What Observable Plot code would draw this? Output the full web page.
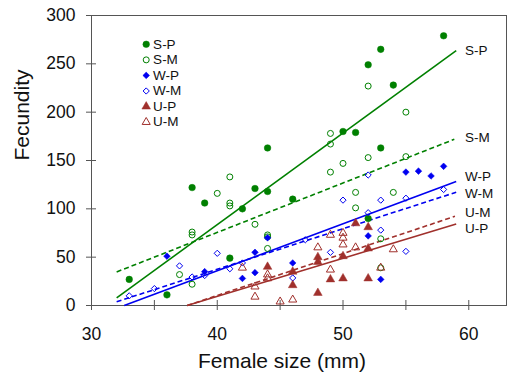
<!DOCTYPE html>
<html><head><meta charset="utf-8">
<script src="https://cdn.jsdelivr.net/npm/d3@7"></script>
<script src="https://cdn.jsdelivr.net/npm/@observablehq/plot@0.6"></script>
<style>body{margin:0;background:#fff} svg{display:block}</style>
</head><body><div id="chart"></div>
<script>
// ---- data ----
const seriesNames = ["S-P","S-M","W-P","W-M","U-P","U-M"];

const spX = [33,36,38,39,41,42,43,44,44,46,50,51,52,52,53,53,54,58];
const spY = [27,11,122,106,49,100,121,118,163,110,180,179,249,90,265,163,228,279];

const smX = [37,38,38,38,40,41,41,41,43,44,44,44,49,49,49,50,51,51,52,52,53,53,54,55,55];
const smY = [32,76,73,22,116,133,106,103,84,73,71,59,178,167,138,147,117,101,227,153,69,39,117,200,154];

const wpX = [36,39,42,43,43,44,46,52,53,55,56,57,58];
const wpY = [51,35,28,55,34,70,44,72,27,138,139,134,144];

const wmX = [33,35,37,38,39,40,41,42,46,47,49,50,52,52,53,53,55,55,58];
const wmY = [10,17.5,41,29.5,31,54,38,44,28.5,68,55,109,135,96,109,78,111,56,120];

const upX = [44,46,46,48,48,48,49,50,50,51,52,52,52];
const upY = [40,35,21,50,45,13,27,51,28,85,81,59,28];

const umX = [42,43,43,44,44,45,46,48,49,49,50,50,50,51,53,54];
const umY = [39,19.5,9,32,28,4,6,60,73,37,75,70,63,60,39,58];

// fitted regression lines (slope, intercept, x extent), same order as seriesNames
const fitSlope     = [9.47, 5.11, 4.854, 4.196, 3.94, 4.33];
const fitIntercept = [-295.1, -128.8, -158.2, -130.4, -148.1, -162.8];
const fitXStart    = [32.0, 32.0, 32.6, 32.0, 37.6, 37.6];
const fitXEnd      = [59.0, 58.85, 59.0, 59.0, 59.0, 58.9];
const lineLabelY   = [264, 174, 133, 116, 79, 96];

const xTicks = [30,35,40,45,50,55,60];
const xTickLabels = [30,40,50,60];
const yTicks = [0,50,100,150,200,250,300];
const xTitle = "Female size (mm)";
const yTitle = "Fecundity";

// ---- styles ----
const GREEN = "#008000", BLUE = "#0000f0", RED = "#a0302c";
const styles = {
  "S-P": {color: GREEN, symbol: "circle",   filled: true,  r: 3.3, dash: null},
  "S-M": {color: GREEN, symbol: "circle",   filled: false, r: 3.0, dash: "5,3"},
  "W-P": {color: BLUE,  symbol: "diamond2", filled: true,  r: 3.0, dash: null},
  "W-M": {color: BLUE,  symbol: "diamond2", filled: false, r: 2.8, dash: "5,3"},
  "U-P": {color: RED,   symbol: "triangle", filled: true,  r: 3.2, dash: null},
  "U-M": {color: RED,   symbol: "triangle", filled: false, r: 3.0, dash: "5,3"}
};

const W = 508, H = 379, mL = 91, mR = 2, mT = 15, mB = 74;
const plotW = W - mL - mR, plotH = H - mT - mB;

const xs = {"S-P": spX, "S-M": smX, "W-P": wpX, "W-M": wmX, "U-P": upX, "U-M": umX};
const ys = {"S-P": spY, "S-M": smY, "W-P": wpY, "W-M": wmY, "U-P": upY, "U-M": umY};
const points = seriesNames.flatMap(s => xs[s].map((x, i) => ({series: s, x, y: ys[s][i]})));
const fits = seriesNames.map((s, i) => ({series: s, x1: fitXStart[i], x2: fitXEnd[i],
  y1: fitIntercept[i] + fitSlope[i] * fitXStart[i], y2: fitIntercept[i] + fitSlope[i] * fitXEnd[i],
  labelY: lineLabelY[i]}));
const legendRows = seriesNames.map((s, i) => ({series: s, i}));
const legendX = 34.35, legendTextX = 34.9, legendTop = 270.2, legendStep = 16.1;

const marks = [];
marks.push(Plot.frame({stroke: "#555"}));
marks.push(Plot.tickX(xTicks, {x: d => d, insetTop: plotH - 5, insetBottom: -5, stroke: "#555"}));
marks.push(Plot.tickY(yTicks, {y: d => d, insetLeft: -5, insetRight: plotW - 5, stroke: "#555"}));
marks.push(Plot.axisX({ticks: xTickLabels, tickSize: 0, tickPadding: 22, label: null, fontSize: 17.5, fill: "#111"}));
marks.push(Plot.axisY({ticks: yTicks, tickSize: 0, tickPadding: 16, label: null, fontSize: 17.5, fill: "#111"}));

for (const f of fits) {
  const st = styles[f.series];
  marks.push(Plot.link([f], {x1: "x1", y1: "y1", x2: "x2", y2: "y2", stroke: st.color,
    strokeWidth: 1.6, strokeDasharray: st.dash}));
}
for (const s of seriesNames) {
  const st = styles[s];
  const rows = points.filter(p => p.series === s);
  marks.push(Plot.dot(rows, {x: "x", y: "y", symbol: st.symbol, r: st.r,
    fill: st.filled ? st.color : "none", stroke: st.color, strokeWidth: st.filled ? 0.5 : 1}));
}
// line end labels
marks.push(Plot.text(fits, {x: 59.7, y: "labelY", text: "series", textAnchor: "start", fontSize: 13.5, fill: "#111"}));
// legend
for (const row of legendRows) {
  const st = styles[row.series];
  marks.push(Plot.dot([row], {x: legendX, y: legendTop - row.i * legendStep, symbol: st.symbol, r: st.r,
    fill: st.filled ? st.color : "none", stroke: st.color, strokeWidth: st.filled ? 0.5 : 1}));
}
marks.push(Plot.text(legendRows, {x: legendTextX, y: d => legendTop - d.i * legendStep, text: "series",
  textAnchor: "start", fontSize: 13.5, fill: "#111"}));
// axis titles
marks.push(Plot.text([xTitle], {frameAnchor: "bottom", dx: -17, dy: 62, fontSize: 21, fill: "#111"}));
marks.push(Plot.text([yTitle], {frameAnchor: "left", dx: -69, rotate: -90, fontSize: 21, fill: "#111"}));

const chart = Plot.plot({
  width: W, height: H,
  marginLeft: mL, marginRight: mR, marginTop: mT, marginBottom: mB,
  style: {fontFamily: "'Liberation Sans', Arial, sans-serif", background: "#fff", overflow: "visible"},
  x: {domain: [30, 63]},
  y: {domain: [0, 300]},
  marks
});
document.getElementById("chart").appendChild(chart);
</script>
</body></html>
